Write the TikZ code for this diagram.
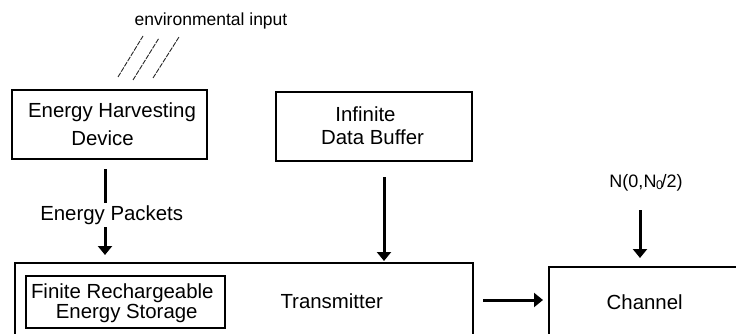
\documentclass[tikz,border=0pt]{standalone}
\usepackage{fontspec}
\setmainfont{Liberation Sans}
\usetikzlibrary{arrows.meta}
\begin{document}
\begin{tikzpicture}[x=1pt,y=-1pt,
  box/.style={draw,line width=2.2pt,rectangle,inner sep=0pt,outer sep=0pt},
  lbl/.style={anchor=base,inner sep=0pt,font=\fontsize{20.4}{24}\selectfont},
  small/.style={anchor=base,inner sep=0pt,font=\fontsize{17.5}{21}\selectfont},
  arr/.style={line width=3pt,-{Triangle[width=14pt,length=9pt]}},
  seg/.style={line width=3pt},
  hatch/.style={line width=0.9pt,dash pattern=on 5pt off 1.2pt,black!85}]
\useasboundingbox (0,0) rectangle (736,334);
\begin{scope}
\clip (0,0) rectangle (736,334);
% boxes
\node[box,minimum width=195pt,minimum height=69pt] (eh) at (109.5,124.5) {};
\node[box,minimum width=196pt,minimum height=69pt] (db) at (374,126.5) {};
\node[box,minimum width=458pt,minimum height=82pt] (tx) at (244,304) {};
\node[box,minimum width=199pt,minimum height=52pt] (st) at (125.5,302) {};
\node[box,minimum width=211pt,minimum height=78pt] (ch) at (654.5,306) {};
\end{scope}
% texts
\node[small] (env) at (211,26) {environmental input};
\node[lbl] (eh1) at (112,118) {Energy Harvesting};
\node[lbl] (eh2) at (102.5,146) {Device};
\node[lbl] (db1) at (365.5,122) {Infinite};
\node[lbl] (db2) at (372.5,144) {Data Buffer};
\node[lbl] (ep) at (111.7,220) {Energy Packets};
\node[lbl] (txl) at (331.7,308.5) {Transmitter};
\node[lbl] (st1) at (122.3,298) {Finite Rechargeable};
\node[lbl] (st2) at (126.7,318) {Energy Storage};
\node[lbl] (chl) at (644.7,309) {Channel};
\node[small,font=\fontsize{18}{21}\selectfont] (noise) at (646,187) {N(0,N\kern-0.5pt\textsubscript{0}\kern-2pt/2)};
% hatch lines
\coordinate (h1a) at (118,77); \coordinate (h1b) at (143,36);
\coordinate (h2a) at (133,80); \coordinate (h2b) at (159,38);
\coordinate (h3a) at (153,78); \coordinate (h3b) at (179,37);
\draw[hatch] (h1a) -- (h1b);
\draw[hatch] (h2a) -- (h2b);
\draw[hatch] (h3a) -- (h3b);
% arrows
\coordinate (e1) at (105,169); \coordinate (e2) at (105,203);
\coordinate (e3) at (105,227); \coordinate (e4) at (105,255);
\draw[seg] (e1) -- (e2);
\draw[arr] (e3) -- (e4);
\coordinate (d1) at (384,177); \coordinate (d2) at (384,261);
\draw[arr] (d1) -- (d2);
\coordinate (n1) at (640,210); \coordinate (n2) at (640,258);
\draw[arr] (n1) -- (n2);
\coordinate (t1) at (483,300); \coordinate (t2) at (543,300);
\draw[arr] (t1) -- (t2);
\end{tikzpicture}
\end{document}
